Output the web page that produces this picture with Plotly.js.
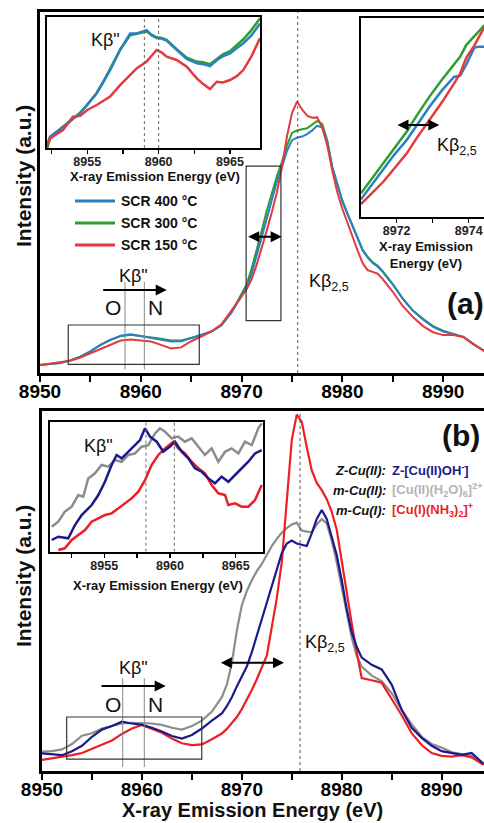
<!DOCTYPE html>
<html><head><meta charset="utf-8">
<script src="https://cdn.plot.ly/plotly-3.0.1.min.js"></script>
<style>html,body{margin:0;padding:0;overflow:hidden;background:#fff;width:484px;height:823px}#chart{width:500px;height:823px}</style>
</head><body><div id="chart"></div>
<script>
// ---------- Panel (a): SCR spectra ----------
const energyA = [8950, 8951, 8952, 8953, 8954, 8955, 8956, 8957, 8958, 8959, 8960, 8961, 8962, 8963, 8964, 8965, 8966, 8967, 8968, 8969, 8970, 8970.5, 8971, 8971.5, 8972, 8972.5, 8973, 8973.5, 8974, 8974.5, 8975, 8975.5, 8976, 8976.5, 8977, 8977.5, 8978, 8978.5, 8979, 8979.5, 8980, 8980.5, 8981, 8981.5, 8982, 8982.5, 8983, 8983.5, 8984, 8985, 8986, 8987, 8988, 8989, 8990, 8991, 8992, 8993, 8994.4];
const scr400 = [0.022,0.024,0.028,0.035,0.045,0.06,0.078,0.092,0.103,0.107,0.102,0.098,0.093,0.087,0.088,0.097,0.104,0.115,0.132,0.168,0.213,0.238,0.275,0.325,0.378,0.43,0.482,0.53,0.57,0.615,0.645,0.652,0.655,0.662,0.672,0.685,0.68,0.64,0.57,0.52,0.475,0.44,0.405,0.37,0.34,0.32,0.305,0.295,0.28,0.245,0.205,0.172,0.148,0.128,0.115,0.108,0.1,0.08,0.055];
const scr300 = [0.022,0.024,0.028,0.035,0.045,0.06,0.078,0.092,0.102,0.106,0.103,0.099,0.095,0.09,0.09,0.097,0.104,0.115,0.132,0.168,0.22,0.245,0.29,0.34,0.395,0.45,0.5,0.545,0.585,0.63,0.665,0.672,0.675,0.678,0.688,0.698,0.69,0.645,0.57,0.522,0.478,0.443,0.408,0.372,0.342,0.322,0.307,0.297,0.282,0.246,0.206,0.173,0.15,0.13,0.117,0.108,0.1,0.08,0.055];
const scr150 = [0.022,0.026,0.03,0.034,0.043,0.055,0.068,0.08,0.09,0.093,0.091,0.087,0.078,0.068,0.071,0.088,0.101,0.115,0.135,0.172,0.212,0.232,0.26,0.3,0.345,0.395,0.445,0.5,0.57,0.655,0.72,0.752,0.73,0.713,0.707,0.708,0.68,0.63,0.56,0.5,0.455,0.415,0.38,0.34,0.305,0.285,0.28,0.275,0.26,0.225,0.185,0.155,0.13,0.113,0.105,0.105,0.1,0.08,0.055];
const seriesNamesA = ['SCR 400 °C', 'SCR 300 °C', 'SCR 150 °C'];

// inset a1 (K-beta'' region)
const insetA1Energy = [8952.2, 8952.39, 8953.3, 8954.0, 8954.5, 8955.0, 8955.66, 8956.1, 8956.6, 8957.3, 8958.0, 8958.46, 8959.16, 8959.5, 8959.86, 8960.2, 8960.56, 8961.26, 8961.97, 8962.67, 8963.1, 8963.6, 8964.07, 8964.5, 8965.0, 8965.5, 8965.93, 8966.5, 8967.1];
const insetA1_400 = [0.03,0.086,0.163,0.22,0.265,0.33,0.418,0.5,0.595,0.748,0.875,0.875,0.9,0.86,0.84,0.835,0.82,0.75,0.68,0.646,0.64,0.625,0.67,0.7,0.723,0.765,0.8,0.86,0.95];
const insetA1_300 = [0.0,0.07,0.16,0.22,0.27,0.33,0.42,0.5,0.6,0.75,0.86,0.87,0.89,0.865,0.845,0.84,0.825,0.755,0.69,0.66,0.655,0.64,0.68,0.715,0.74,0.79,0.83,0.9,0.99];
const insetA1_150 = [0.02,0.074,0.137,0.239,0.245,0.29,0.328,0.355,0.392,0.48,0.56,0.608,0.66,0.70,0.748,0.73,0.697,0.672,0.62,0.532,0.49,0.45,0.506,0.5,0.519,0.55,0.595,0.7,0.837];

// inset a2 (K-beta 2,5 rising edge)
const insetA2Energy = [8971.01, 8971.32, 8971.63, 8971.94, 8972.28, 8972.57, 8972.91, 8973.25, 8973.59, 8973.76, 8973.93, 8974.15, 8974.27, 8974.44, 8974.61];
const insetA2_400 = [0.089,0.165,0.245,0.315,0.387,0.465,0.554,0.635,0.704,0.71,0.765,0.85,0.856,0.856,0.9];
const insetA2_300 = [0.119,0.194,0.27,0.345,0.43,0.513,0.605,0.688,0.77,0.805,0.864,0.906,0.93,0.965,1.0];
const insetA2_150 = [0.065,0.12,0.177,0.245,0.32,0.4,0.487,0.575,0.67,0.72,0.8,0.86,0.9,0.956,0.99];

// ---------- Panel (b): reference compounds ----------
const energyB = [8950, 8951, 8952, 8953, 8954, 8955, 8956, 8957, 8958, 8959, 8960, 8961, 8962, 8963, 8964, 8965, 8966, 8967, 8968, 8968.5, 8969, 8969.5, 8970, 8970.5, 8971, 8971.5, 8972, 8972.5, 8973, 8973.5, 8974, 8974.5, 8975, 8975.5, 8976, 8976.5, 8977, 8977.5, 8978, 8978.5, 8979, 8979.5, 8980, 8980.5, 8981, 8981.5, 8982, 8983, 8984, 8985, 8986, 8987, 8988, 8989, 8990, 8991, 8992, 8993, 8994.2];
const zCuII = [0.049,0.046,0.044,0.055,0.07,0.095,0.115,0.125,0.137,0.132,0.128,0.12,0.11,0.097,0.09,0.1,0.118,0.14,0.16,0.18,0.205,0.235,0.265,0.29,0.33,0.375,0.42,0.465,0.51,0.555,0.605,0.632,0.64,0.632,0.628,0.625,0.66,0.7,0.725,0.7,0.65,0.6,0.53,0.45,0.385,0.345,0.315,0.295,0.282,0.24,0.17,0.12,0.092,0.07,0.055,0.05,0.045,0.05,0.02];
const mCuII = [0.054,0.055,0.06,0.075,0.098,0.105,0.118,0.125,0.132,0.134,0.134,0.132,0.128,0.12,0.115,0.125,0.14,0.165,0.205,0.24,0.3,0.39,0.46,0.5,0.53,0.555,0.575,0.6,0.625,0.645,0.662,0.675,0.685,0.69,0.668,0.665,0.663,0.685,0.7,0.688,0.64,0.58,0.51,0.44,0.37,0.32,0.29,0.265,0.25,0.216,0.17,0.13,0.095,0.075,0.065,0.052,0.047,0.042,0.02];
const mCuI = [0.031,0.035,0.038,0.044,0.05,0.062,0.073,0.085,0.103,0.118,0.128,0.118,0.106,0.09,0.077,0.072,0.074,0.088,0.104,0.117,0.132,0.15,0.172,0.198,0.225,0.255,0.29,0.32,0.4,0.48,0.58,0.74,0.92,0.99,0.97,0.9,0.835,0.8,0.78,0.755,0.72,0.67,0.58,0.49,0.41,0.33,0.258,0.252,0.245,0.2,0.155,0.105,0.072,0.05,0.042,0.04,0.044,0.038,0.017];

// inset b (K-beta'' region)
const insetB_zE = [8951.0, 8951.5, 8952.26, 8952.77, 8953.28, 8954.04, 8954.55, 8955.05, 8955.56, 8955.94, 8956.32, 8956.83, 8957.34, 8957.72, 8958.1, 8958.48, 8958.99, 8959.49, 8960.0, 8960.38, 8960.89, 8961.39, 8961.9, 8962.41, 8962.92, 8963.42, 8963.93, 8964.44, 8964.95, 8965.45, 8965.96, 8966.47, 8966.98];
const insetB_z = [0.09,0.115,0.103,0.205,0.282,0.359,0.436,0.538,0.667,0.744,0.718,0.769,0.82,0.859,0.949,0.885,0.846,0.769,0.808,0.846,0.769,0.718,0.641,0.615,0.564,0.526,0.577,0.538,0.59,0.641,0.692,0.756,0.782];
const insetB_mIIE = [8951.0, 8951.5, 8952.0, 8952.52, 8953.02, 8953.4, 8953.78, 8954.29, 8954.8, 8955.31, 8955.81, 8956.32, 8956.83, 8957.34, 8957.84, 8958.35, 8958.86, 8959.24, 8959.62, 8960.13, 8960.63, 8961.14, 8961.65, 8962.16, 8962.66, 8963.17, 8963.68, 8964.19, 8964.69, 8965.2, 8965.71, 8966.22, 8966.72, 8966.98];
const insetB_mII = [0.192,0.231,0.308,0.346,0.436,0.423,0.564,0.603,0.667,0.654,0.705,0.692,0.744,0.756,0.808,0.82,0.91,0.949,0.923,0.872,0.885,0.846,0.872,0.808,0.744,0.795,0.692,0.769,0.795,0.756,0.846,0.82,0.949,0.987];
const insetB_mIE = [8951.5, 8952.0, 8952.52, 8953.02, 8953.53, 8954.04, 8954.55, 8955.05, 8955.56, 8956.07, 8956.58, 8957.08, 8957.59, 8958.1, 8958.6, 8959.11, 8959.62, 8960.25, 8960.63, 8961.14, 8961.65, 8962.16, 8962.66, 8963.17, 8963.68, 8964.19, 8964.44, 8964.95, 8965.45, 8965.96, 8966.47, 8966.98];
const insetB_mI = [0.013,0.026,0.09,0.128,0.167,0.231,0.256,0.282,0.295,0.333,0.372,0.41,0.462,0.551,0.667,0.744,0.795,0.846,0.795,0.756,0.692,0.641,0.603,0.513,0.449,0.436,0.359,0.372,0.346,0.346,0.397,0.513];

// reference energies (eV)
const kb25LineA = 8975.57, kb25LineB = 8975.83;
const onLinesA = [8958.43, 8960.35], onLinesB = [8958.08, 8960.24];
const insetA1Lines = [8959.0, 8960.0], insetB_Lines = [8958.17, 8960.33];

// ---------- drawing ----------
const FONT = 'Arial, "Liberation Sans", Helvetica, sans-serif';
const W = 500, H = 823;
const PX = x => x / W, PY = y => 1 - y / H;
const cA = {s400: '#2b7fc2', s300: '#2ca02c', s150: '#e4393d'};
const cB = {z: '#1a1a8c', mII: '#8c8c8c', mI: '#ee1f24'};

function line(x, y, color, w, xa, ya) {
  return {type: 'scatter', mode: 'lines', x: x, y: y, xaxis: xa, yaxis: ya,
          line: {color: color, width: w}, showlegend: false, hoverinfo: 'skip'};
}
const traces = [
  line(energyA, scr300, cA.s300, 2, 'x', 'y'),
  line(energyA, scr400, cA.s400, 2, 'x', 'y'),
  line(energyA, scr150, cA.s150, 2, 'x', 'y'),
  line(energyB, mCuII, cB.mII, 2.2, 'x2', 'y2'),
  line(energyB, mCuI, cB.mI, 2.2, 'x2', 'y2'),
  line(energyB, zCuII, cB.z, 2.2, 'x2', 'y2'),
  line(insetA1Energy, insetA1_300, cA.s300, 2.5, 'x3', 'y3'),
  line(insetA1Energy, insetA1_400, cA.s400, 2.5, 'x3', 'y3'),
  line(insetA1Energy, insetA1_150, cA.s150, 2.5, 'x3', 'y3'),
  line(insetA2Energy, insetA2_300, cA.s300, 2.5, 'x4', 'y4'),
  line(insetA2Energy, insetA2_400, cA.s400, 2.5, 'x4', 'y4'),
  line(insetA2Energy, insetA2_150, cA.s150, 2.5, 'x4', 'y4'),
  line(insetB_mIIE, insetB_mII, cB.mII, 2.5, 'x5', 'y5'),
  line(insetB_mIE, insetB_mI, cB.mI, 2.5, 'x5', 'y5'),
  line(insetB_zE, insetB_z, cB.z, 2.5, 'x5', 'y5')
];

function mainX(domain, range, anchor) {
  return {domain: domain, range: range, anchor: anchor, showgrid: false, zeroline: false,
    showline: true, linewidth: 3, linecolor: '#000', mirror: true,
    ticks: 'outside', ticklen: 6, tickwidth: 2, tickcolor: '#000', tick0: 8950, dtick: 10,
    ticklabelstandoff: -7,
    tickfont: {family: FONT, size: 19, color: '#000', weight: 'bold'},
    minor: {dtick: 5, ticks: 'outside', ticklen: 6, tickwidth: 2, tickcolor: '#000'}};
}
function mainY(domain, anchor) {
  return {domain: domain, range: [0, 1], anchor: anchor, showgrid: false, zeroline: false,
    showline: true, linewidth: 3, linecolor: '#000', showticklabels: false, ticks: ''};
}
function insetX(domain, range, anchor, tick0, dtick, mdt) {
  return {domain: domain, range: range, anchor: anchor, showgrid: false, zeroline: false,
    showline: true, linewidth: 2, linecolor: '#000', mirror: true,
    ticks: 'outside', ticklen: 4, tickwidth: 1.5, tickcolor: '#000', tick0: tick0, dtick: dtick,
    ticklabelstandoff: -3,
    tickfont: {family: FONT, size: 12.5, color: '#222', weight: 'bold'},
    minor: {dtick: mdt, ticks: 'outside', ticklen: 4, tickwidth: 1.5, tickcolor: '#000'}};
}
function insetY(domain, anchor) {
  return {domain: domain, range: [0, 1], anchor: anchor, showgrid: false, zeroline: false,
    showline: true, linewidth: 2, linecolor: '#000', mirror: true, showticklabels: false, ticks: ''};
}

const shapes = [];
function vline(x, xref, yref, y0, y1, color, dash, w) {
  shapes.push({type: 'line', xref: xref, yref: yref, x0: x, x1: x, y0: y0, y1: y1,
               line: {color: color, width: w, dash: dash}});
}
function rect(x0, x1, y0, y1, xref, yref) {
  shapes.push({type: 'rect', xref: xref, yref: yref, x0: x0, x1: x1, y0: y0, y1: y1,
               line: {color: '#333', width: 1.2}, fillcolor: 'rgba(0,0,0,0)'});
}
vline(kb25LineA, 'x', 'y', 0, 1, '#555', 'dot', 1);
vline(kb25LineB, 'x2', 'y2', 0, 1, '#555', 'dot', 1);
onLinesA.forEach(e => vline(e, 'x', 'y', 0.01, 0.252, '#888', 'solid', 1));
onLinesB.forEach(e => vline(e, 'x2', 'y2', 0.011, 0.258, '#888', 'solid', 1));
insetA1Lines.forEach(e => vline(e, 'x3', 'y3', 0, 1, '#666', 'dot', 1));
insetB_Lines.forEach(e => vline(e, 'x5', 'y5', 0, 1, '#666', 'dot', 1));
rect(8952.8, 8965.8, 0.024, 0.133, 'x', 'y');
rect(8970.45, 8973.9, 0.145, 0.573, 'x', 'y');
rect(8952.47, 8965.99, 0.033, 0.15, 'x2', 'y2');
// legend swatches for panel (a)
const legendColorsA = [cA.s400, cA.s300, cA.s150];
const legendRowsA = [201, 223, 245];
legendColorsA.forEach((c, i) => shapes.push({type: 'line', xref: 'paper', yref: 'paper',
  x0: PX(75), x1: PX(115), y0: PY(legendRowsA[i]), y1: PY(legendRowsA[i]), line: {color: c, width: 3}}));

const ann = [];
function txt(x, y, text, size, extra) {
  ann.push(Object.assign({xref: 'paper', yref: 'paper', x: PX(x), y: PY(y), text: text, showarrow: false,
    font: {family: FONT, size: size, color: '#111'}, xanchor: 'center', yanchor: 'middle'}, extra || {}));
}
function arrow(xh, y, len, both) {
  ann.push({xref: 'paper', yref: 'paper', x: PX(xh), y: PY(y), ax: -len, ay: 0, text: '',
    showarrow: true, arrowhead: 2, arrowsize: 1.1, arrowwidth: 2, arrowcolor: '#000',
    arrowside: both ? 'end+start' : 'end', standoff: 0, startstandoff: 0});
}
// axis titles
txt(23, 176, '<b>Intensity (a.u.)</b>', 21, {textangle: -90});
txt(23, 576, '<b>Intensity (a.u.)</b>', 21, {textangle: -90});
txt(252, 810, '<b>X-ray Emission Energy (eV)</b>', 20);
txt(155, 177, '<b>X-ray Emission Energy (eV)</b>', 13);
txt(158, 585, '<b>X-ray Emission Energy (eV)</b>', 13);
txt(426, 255, '<b>X-ray Emission<br>Energy (eV)</b>', 13);
// panel (a) labels
txt(133, 276, 'Kβ"', 18);
txt(113, 307, 'O', 21);
txt(155, 307, 'N', 21);
txt(307, 282, 'Kβ<sub>2,5</sub>', 18, {xanchor: 'left'});
txt(486, 304, '<b>(a)</b>', 30, {xanchor: 'right'});
txt(105, 40, 'Kβ"', 18);
txt(435, 147, 'Kβ<sub>2,5</sub>', 18, {xanchor: 'left'});
seriesNamesA.forEach((n, i) => txt(119, legendRowsA[i], '<b>' + n + '</b>', 14, {xanchor: 'left'}));
arrow(166.7, 290, 65, false);
arrow(281.7, 236.7, 35, true);
arrow(439.3, 125, 43.3, true);
// panel (b) labels
txt(133, 668, 'Kβ"', 18);
txt(113, 704, 'O', 21);
txt(155, 704, 'N', 21);
txt(303, 643, 'Kβ<sub>2,5</sub>', 18, {xanchor: 'left'});
txt(482, 436, '<b>(b)</b>', 30, {xanchor: 'right'});
txt(98, 446, 'Kβ"', 18);
arrow(165.7, 686, 65.7, false);
arrow(284, 662.7, 64.7, true);
const legendPrefixB = ['Z-Cu(II):', 'm-Cu(II):', 'm-Cu(I):'];
const legendLabelsB = ['Z-[Cu(II)OH<sup>-</sup>]', '[Cu(II)(H<sub>2</sub>O)<sub>6</sub>]<sup>2+</sup>', '[Cu(I)(NH<sub>3</sub>)<sub>2</sub>]<sup>+</sup>'];
const legendColorsB = [cB.z, '#b4b4b4', cB.mI];
const legendRowsB = [470, 490, 510];
legendPrefixB.forEach((p, i) => {
  txt(388, legendRowsB[i], '<b><i>' + p + '</i></b>', 13, {xanchor: 'right'});
  txt(390, legendRowsB[i], '<b>' + legendLabelsB[i] + '</b>', 13,
      {xanchor: 'left', font: {family: FONT, size: 13, color: legendColorsB[i]}});
});

const layout = {
  width: W, height: H, margin: {l: 0, r: 0, t: 0, b: 0},
  paper_bgcolor: '#fff', plot_bgcolor: '#fff', showlegend: false,
  font: {family: FONT, color: '#111'},
  xaxis: mainX([PX(40), PX(484)], [8950, 8994.05], 'y'),
  yaxis: mainY([PY(373), PY(12)], 'x'),
  xaxis2: mainX([PX(42), PX(484)], [8950, 8994.24], 'y2'),
  yaxis2: mainY([PY(771), PY(411)], 'x2'),
  xaxis3: insetX([PX(47), PX(260)], [8952.18, 8967.1], 'y3', 8955, 5, 2.5),
  yaxis3: insetY([PY(148), PY(17)], 'x3'),
  xaxis4: insetX([PX(361), PX(490)], [8971.01, 8974.59], 'y4', 8972, 2, 1),
  yaxis4: insetY([PY(217), PY(18)], 'x4'),
  xaxis5: insetX([PX(50), PX(263.3)], [8950.87, 8967.1], 'y5', 8955, 5, 2.5),
  yaxis5: insetY([PY(551.7), PY(421.7)], 'x5'),
  shapes: shapes, annotations: ann
};
Plotly.newPlot('chart', traces, layout, {staticPlot: true, displayModeBar: false});
</script></body></html>
